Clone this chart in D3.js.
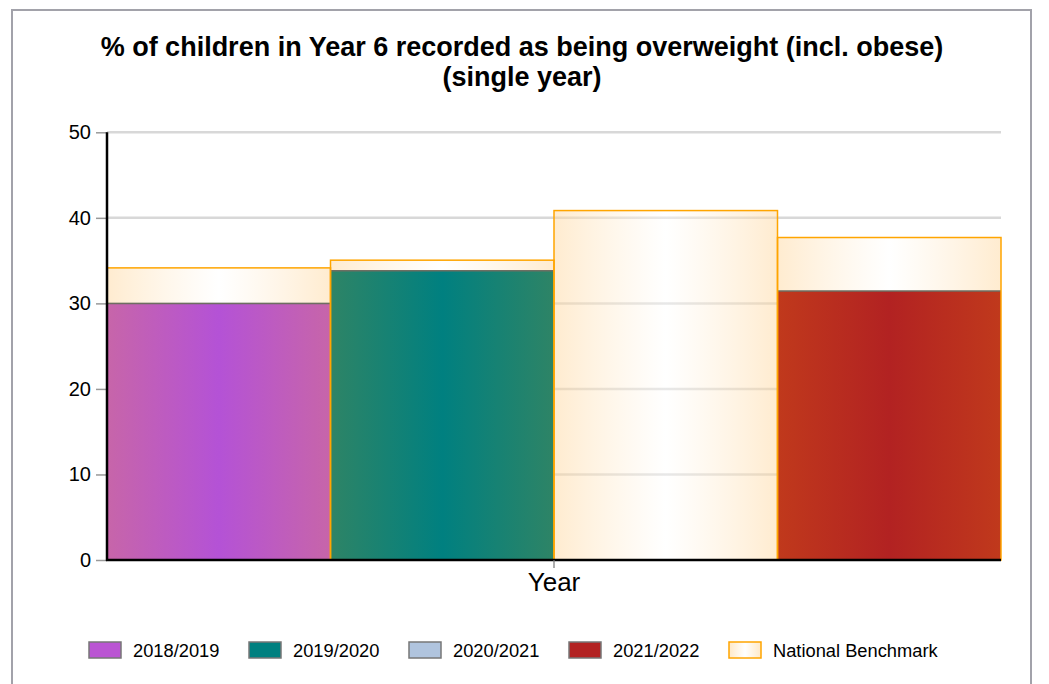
<!DOCTYPE html>
<html>
<head>
<meta charset="utf-8">
<script src="https://cdn.jsdelivr.net/npm/d3@7"></script>
<style>
  html, body { margin: 0; padding: 0; background: #fff; }
  svg { display: block; font-family: "Liberation Sans", Arial, sans-serif; }
</style>
</head>
<body>
<svg id="chart" width="1049" height="684"></svg>
<script>
// ---- data ----
const titleLines = ["% of children in Year 6 recorded as being overweight (incl. obese)", "(single year)"];
const categories = ["2018/2019", "2019/2020", "2020/2021", "2021/2022"];
const values = [30.0, 33.8, null, 31.45];
const benchmark = [34.15, 35.05, 40.85, 37.7];
const yTicks = [0, 10, 20, 30, 40, 50];
const xLabel = "Year";
const benchmarkLabel = "National Benchmark";
const seriesColors = [
  { edge: "#c765a9", mid: "#b452d6", legend: "#ba55d3" },
  { edge: "#2e8466", mid: "#008080", legend: "#008080" },
  { edge: "#b0c4de", mid: "#b0c4de", legend: "#b0c4de" },
  { edge: "#c0391c", mid: "#b22222", legend: "#b22222" }
];

const svg = d3.select("#chart");
const W = 1049, H = 684;
const margin = { left: 107, right: 1001, top: 132.3, bottom: 560 };

// gradients
const defs = svg.append("defs");
function hGrad(id, edge, mid, edgeOpacity = 1, midOpacity = 1) {
  const g = defs.append("linearGradient").attr("id", id)
    .attr("x1", "0%").attr("x2", "100%").attr("y1", "0%").attr("y2", "0%");
  g.append("stop").attr("offset", "0%").attr("stop-color", edge).attr("stop-opacity", edgeOpacity);
  g.append("stop").attr("offset", "50%").attr("stop-color", mid).attr("stop-opacity", midOpacity);
  g.append("stop").attr("offset", "100%").attr("stop-color", edge).attr("stop-opacity", edgeOpacity);
}
seriesColors.forEach((c, i) => hGrad("g" + i, c.edge, c.mid));
hGrad("gb", "#ffd8a0", "#ffffff", 0.5, 0.4);
hGrad("gbl", "#ffe9c8", "#ffffff", 1, 1);

// frame
svg.append("path")
  .attr("d", `M12,${H + 2} L12,10 L1031,10 L1031,${H + 2}`)
  .attr("fill", "none").attr("stroke", "#a2a2aa").attr("stroke-width", 2);

// title
svg.append("g").selectAll("text").data(titleLines).join("text")
  .attr("x", 522).attr("y", (d, i) => 56 + i * 30)
  .attr("text-anchor", "middle")
  .attr("font-weight", "bold").attr("font-size", 27).attr("fill", "#000")
  .text(d => d);

// scales
const x = d3.scaleBand().domain(categories).range([margin.left, margin.right]).padding(0);
const y = d3.scaleLinear().domain([0, 50]).range([margin.bottom, margin.top]);

// gridlines
svg.append("g").selectAll("line").data(yTicks.filter(t => t > 0)).join("line")
  .attr("x1", margin.left).attr("x2", margin.right)
  .attr("y1", d => y(d)).attr("y2", d => y(d))
  .attr("stroke", "#d8d8d8").attr("stroke-width", 2.5);

// benchmark fill
svg.append("g").selectAll("rect").data(categories).join("rect")
  .attr("x", d => x(d)).attr("width", x.bandwidth())
  .attr("y", (d, i) => y(benchmark[i]))
  .attr("height", (d, i) => y(0) - y(benchmark[i]))
  .attr("fill", "url(#gb)");

// series bars
const barData = categories.map((c, i) => ({ c, v: values[i], i })).filter(d => d.v != null);
svg.append("g").selectAll("rect").data(barData).join("rect")
  .attr("x", d => x(d.c)).attr("width", x.bandwidth())
  .attr("y", d => y(d.v)).attr("height", d => y(0) - y(d.v))
  .attr("fill", d => `url(#g${d.i})`);
svg.append("g").selectAll("line").data(barData).join("line")
  .attr("x1", d => x(d.c)).attr("x2", d => x(d.c) + x.bandwidth())
  .attr("y1", d => y(d.v)).attr("y2", d => y(d.v))
  .attr("stroke", "#6e6e62").attr("stroke-width", 1.5);

// benchmark outline
svg.append("g").selectAll("rect").data(categories).join("rect")
  .attr("x", d => x(d)).attr("width", x.bandwidth())
  .attr("y", (d, i) => y(benchmark[i]))
  .attr("height", (d, i) => y(0) - y(benchmark[i]))
  .attr("fill", "none").attr("stroke", "#ffa500").attr("stroke-width", 1.5);

// y axis
const yAxis = svg.append("g").attr("transform", `translate(${margin.left},0)`)
  .call(d3.axisLeft(y).tickValues(yTicks).tickSize(11).tickPadding(5).tickFormat(d3.format("d")));
yAxis.select(".domain").remove();
yAxis.selectAll(".tick line").attr("stroke", "#999").attr("stroke-width", 1.5);
yAxis.selectAll(".tick text").attr("font-size", 20).attr("fill", "#000")
  .attr("font-family", "Liberation Sans, Arial, sans-serif");
svg.append("line").attr("x1", margin.left).attr("x2", margin.left)
  .attr("y1", margin.top).attr("y2", margin.bottom + 1)
  .attr("stroke", "#000").attr("stroke-width", 2.5);

// x axis
svg.append("line").attr("x1", margin.left - 1).attr("x2", margin.right)
  .attr("y1", margin.bottom).attr("y2", margin.bottom)
  .attr("stroke", "#000").attr("stroke-width", 2.5);
const xMid = (margin.left + margin.right) / 2;
svg.append("line").attr("x1", xMid).attr("x2", xMid)
  .attr("y1", margin.bottom).attr("y2", margin.bottom + 8)
  .attr("stroke", "#777").attr("stroke-width", 1.2);
svg.append("text").attr("x", xMid).attr("y", 591)
  .attr("text-anchor", "middle").attr("font-size", 26).attr("fill", "#000")
  .text(xLabel);

// legend
const legendItems = categories.map((c, i) => ({ label: c, fill: seriesColors[i].legend, stroke: "#777" }))
  .concat([{ label: benchmarkLabel, fill: "url(#gbl)", stroke: "#ffa500" }]);
const lg = svg.append("g").selectAll("g").data(legendItems).join("g")
  .attr("transform", (d, i) => `translate(${89 + i * 160},642)`);
lg.append("rect").attr("width", 32).attr("height", 16)
  .attr("fill", d => d.fill).attr("stroke", d => d.stroke).attr("stroke-width", 1.5);
lg.append("text").attr("x", 44).attr("y", 14.5).attr("font-size", 18.3).attr("fill", "#000")
  .text(d => d.label);
</script>
</body>
</html>
